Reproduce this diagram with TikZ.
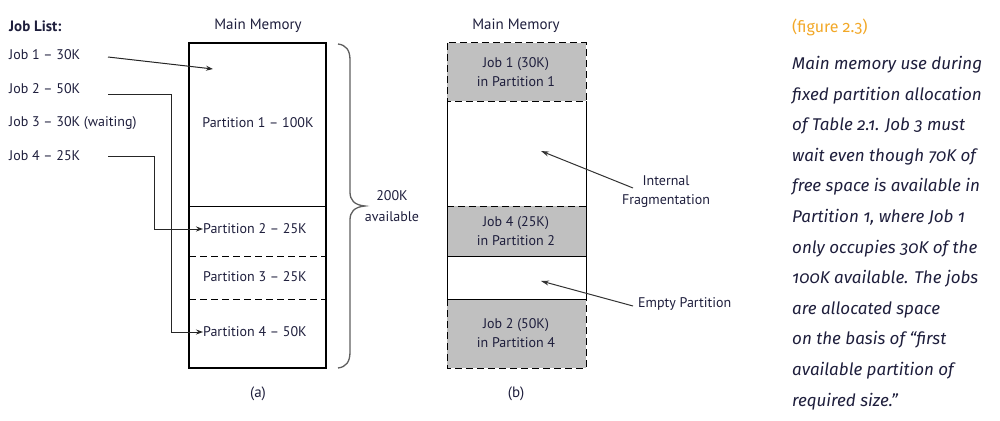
\documentclass[tikz,border=0pt]{standalone}
\usepackage{fontspec}
\setmainfont{PT Sans}
\newfontfamily\capfont[Numbers=OldStyle]{Fira Sans}
\usetikzlibrary{arrows.meta}
\definecolor{ink}{RGB}{30,30,60}
\definecolor{boxgray}{RGB}{192,192,192}
\definecolor{figorange}{RGB}{242,168,40}
\definecolor{bracegray}{RGB}{95,95,95}
\begin{document}
\begin{tikzpicture}[x=1pt,y=-1pt,
  lbl/.style={font=\fontsize{14}{16}\selectfont, text=ink, inner sep=0pt},
  head/.style={font=\fontsize{15}{17}\selectfont, text=ink, inner sep=0pt},
  twoline/.style={lbl, align=center, font=\fontsize{14}{19}\selectfont},
  memline/.style={line width=1.4pt, black},
  thin/.style={line width=0.9pt, black},
  dline/.style={line width=1pt, black, dash pattern=on 7pt off 4pt},
  conn/.style={line width=1pt, black!85, -{Stealth[length=7pt,width=5pt]}},
  pointer/.style={line width=1pt, black!80, -{Stealth[length=8pt,width=5pt]}}
]
\useasboundingbox (0,0) rectangle (1000,420);

% ---------- (a) ----------
\node[head, font=\fontsize{15}{17}\bfseries\selectfont, anchor=west] (joblist) at (9,26) {Job List:};
\node[lbl, anchor=west] (job1) at (9,55) {Job 1 -- 30K};
\node[lbl, anchor=west] (job2) at (9,89) {Job 2 -- 50K};
\node[lbl, anchor=west] (job3) at (9,123) {Job 3 -- 30K (waiting)};
\node[lbl, anchor=west] (job4) at (9,156) {Job 4 -- 25K};

\node[head] (mma) at (258,26) {Main Memory};
\draw[memline] (189,43) rectangle (326,368);
\draw[thin] (189,206) -- (326,206);
\draw[dline] (189,256) -- (326,256);
\draw[dline] (189,299) -- (326,299);

\node[lbl] (p1) at (258,123) {Partition 1 -- 100K};
\node[lbl, anchor=west] (p2) at (203,229) {Partition 2 -- 25K};
\node[lbl, anchor=west] (p3) at (203,277) {Partition 3 -- 25K};
\node[lbl, anchor=west] (p4) at (203,332) {Partition 4 -- 50K};

\coordinate (j1s) at (108,57);
\coordinate (j1e) at (213,69);
\draw[conn] (j1s) -- (j1e);
\coordinate (j2s) at (108,94);
\draw[conn] (j2s) -- (171,94) |- (p4.west);
\coordinate (j4s) at (108,156);
\draw[conn] (j4s) -- (154,156) |- (p2.west);

\draw[bracegray, line width=1.3pt]
  (338,44) .. controls (346,45) and (350,50) .. (350,60)
  -- (350,192) .. controls (350,200) and (354,205) .. (365,206)
  .. controls (354,207) and (350,212) .. (350,220)
  -- (350,352) .. controls (350,362) and (346,367) .. (338,368);
\node[lbl, align=center, font=\fontsize{14}{21}\selectfont] (avail) at (392,206) {200K\\available};

\node[lbl, font=\fontsize{15}{17}\selectfont] (capa) at (258,394) {(a)};

% ---------- (b) ----------
\node[head] (mmb) at (516,26) {Main Memory};
\fill[boxgray] (447,43) rectangle (586,101);
\fill[boxgray] (447,206) rectangle (586,256);
\fill[boxgray] (447,299) rectangle (586,368);
\draw[dline] (447,43) rectangle (586,101);
\draw[thin] (447,101) -- (447,206);
\draw[thin] (586,101) -- (586,206);
\draw[dline] (447,206) -- (586,206);
\draw[thin] (447,206) -- (447,256);
\draw[thin] (586,206) -- (586,256);
\draw[thin] (447,256) -- (586,256);
\draw[thin] (447,256) -- (447,299);
\draw[thin] (586,256) -- (586,299);
\draw[thin] (447,299) -- (586,299);
\draw[dline] (447,299) -- (447,368) -- (586,368) -- (586,299);

\node[twoline] (b1) at (516,72) {Job 1 (30K)\\in Partition 1};
\node[twoline] (b4) at (516,231) {Job 4 (25K)\\in Partition 2};
\node[twoline] (b2) at (516,333) {Job 2 (50K)\\in Partition 4};

\coordinate (frag) at (541,151);
\coordinate (empty) at (541,281);
\node[lbl, align=center, font=\fontsize{14}{19}\selectfont] (intf) at (666,192) {Internal\\Fragmentation};
\node[lbl, anchor=west] (emptyl) at (638,304) {Empty Partition};
\coordinate (ifs) at (633,188);
\coordinate (eps) at (633,306);
\draw[pointer] (ifs) -- (frag);
\draw[pointer] (eps) -- (empty);

\node[lbl, font=\fontsize{15}{17}\selectfont] (capb) at (516,394) {(b)};

% ---------- caption ----------
\node[anchor=west, inner sep=0pt, text=figorange, font=\capfont\fontsize{16}{18}\selectfont] (fig) at (792,27) {(figure 2.3)};
\node[anchor=north west, inner sep=0pt, align=left, text=ink,
      font=\capfont\itshape\fontsize{17}{30.6}\selectfont] (cap) at (792,56)
{Main memory use during\\
fixed partition allocation\\
of Table 2.1. Job 3 must\\
wait even though 70K of\\
free space is available in\\
Partition 1, where Job 1\\
only occupies 30K of the\\
100K available. The jobs\\
are allocated space\\
on the basis of “first\\
available partition of\\
required size.”};
\end{tikzpicture}
\end{document}
